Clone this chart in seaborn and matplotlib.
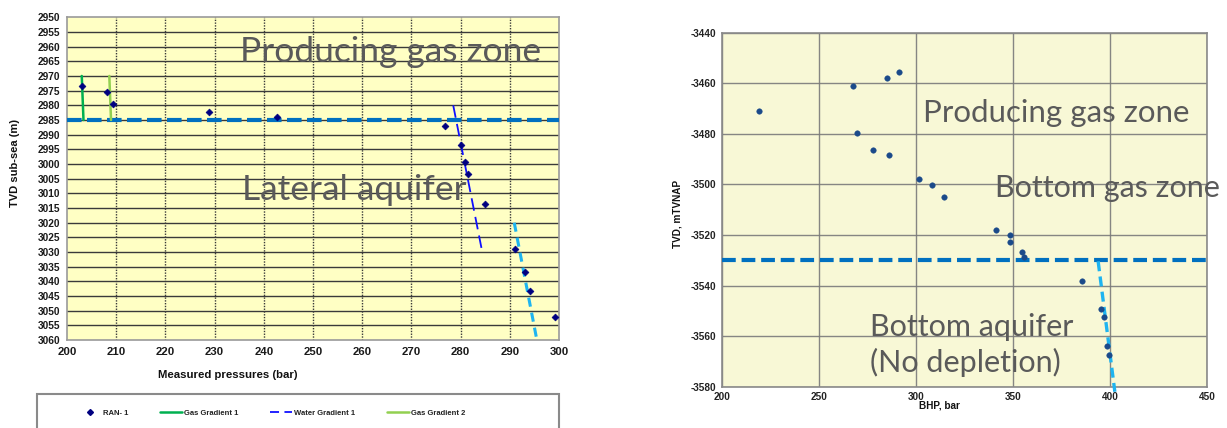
import matplotlib
matplotlib.use("Agg")
import matplotlib.pyplot as plt
from matplotlib.patches import Rectangle
from matplotlib.lines import Line2D
import seaborn as sns

# ---------------- Well RAN-1 (left panel) ----------------
ran1_pressure = [203.0, 208.1, 209.3, 228.8, 242.7, 276.8, 280.1, 280.9, 281.5, 284.9,
                 291.0, 293.0, 294.2, 299.1]
ran1_depth = [2973.4, 2975.4, 2979.4, 2982.2, 2984.1, 2987.1, 2993.5, 2999.3, 3003.5,
              3013.7, 3029.1, 3036.8, 3043.3, 3052.2]

gas_grad1_p = [203.0, 203.35]
gas_grad1_d = [2970, 2985]
gas_grad2_p = [208.6, 208.95]
gas_grad2_d = [2970, 2985]
water_grad1_p = [278.5, 284.4]
water_grad1_d = [2980, 3030]
water_grad2_p = [290.9, 295.5]
water_grad2_d = [3020, 3060]
gwc_left = 2985

# ---------------- Field data (right panel) ----------------
bhp = [219.0, 267.6, 285.2, 291.1, 269.5, 277.7, 285.9, 301.4, 308.1, 314.3,
       341.3, 348.5, 348.5, 354.4, 355.7, 385.4, 395.4, 396.6, 398.5, 399.5]
tvd = [-3470.8, -3461.0, -3457.9, -3455.4, -3479.7, -3486.3, -3488.3, -3497.8,
       -3500.4, -3504.9, -3518.0, -3519.9, -3522.7, -3526.9, -3528.7, -3538.0,
       -3549.2, -3552.5, -3564.1, -3567.6]
aquifer_p = [393.8, 402.4]
aquifer_d = [-3530.4, -3582.0]
gwc_right = -3530

sns.set_theme(style="white")
plt.rcParams["font.family"] = ["Liberation Sans", "DejaVu Sans"]
plt.rcParams["axes.unicode_minus"] = False

W, H = 1227, 428
fig = plt.figure(figsize=(W / 100, H / 100), dpi=100)
fig.patch.set_facecolor("white")

def fx(px):
    return px / W

def fy(py):
    return 1 - py / H

zone_font = dict(family=["Lato", "DejaVu Sans"], color="#5a5a5a")

# ====================== Left panel ======================
axL = fig.add_axes([fx(67), fy(340), fx(559 - 67), (340 - 17.3) / H])
axL.set_facecolor("#FFFFC4")
axL.set_xlim(200, 300)
axL.set_ylim(3060, 2950)
axL.set_xticks(range(200, 301, 10))
axL.set_yticks(range(2950, 3061, 5))
axL.grid(False)
for yv in range(2955, 3060, 5):
    axL.axhline(yv, color="#3a3a3a", lw=1.0, zorder=1)
for xv in range(210, 300, 10):
    axL.axvline(xv, color="#3a3a3a", lw=1.0, ls=(0, (1, 1)), zorder=1)

axL.axhline(gwc_left, color="#0070C0", lw=3.0, dashes=(3.5, 1.3), zorder=3)

sns.lineplot(x=gas_grad1_p, y=gas_grad1_d, ax=axL, color="#00B050", lw=1.8,
             sort=False, estimator=None, zorder=4)
sns.lineplot(x=gas_grad2_p, y=gas_grad2_d, ax=axL, color="#92D050", lw=1.8,
             sort=False, estimator=None, zorder=4)
sns.lineplot(x=water_grad1_p, y=water_grad1_d, ax=axL, color="#1010FF", lw=1.3,
             sort=False, estimator=None, zorder=4)
axL.lines[-1].set_dashes((7, 3.5))
sns.lineplot(x=water_grad2_p, y=water_grad2_d, ax=axL, color="#1EB4F0", lw=2.2,
             sort=False, estimator=None, zorder=4)
axL.lines[-1].set_dashes((3, 2))
axL.lines[-1].set_clip_on(False)

sns.scatterplot(x=ran1_pressure, y=ran1_depth, ax=axL, marker="D", s=12,
                color="#000080", edgecolor="#000080", linewidth=0.5, zorder=5)

for sp in axL.spines.values():
    sp.set_color("#9a9a9a")
    sp.set_linewidth(1.2)
axL.tick_params(axis="both", which="major", direction="out", length=3,
                width=1, color="#808080", pad=2)
for lab in axL.get_yticklabels():
    lab.set_fontsize(7.3)
    lab.set_fontweight("bold")
    lab.set_color("#1a1a1a")
for lab in axL.get_xticklabels():
    lab.set_fontsize(8.2)
    lab.set_fontweight("bold")
    lab.set_color("#1a1a1a")

axL.text(235.1, 2961.8, "Producing gas zone", fontsize=25.5, ha="left", va="center",
         zorder=6, **zone_font)
axL.text(235.5, 3008.9, "Lateral aquifer", fontsize=25.5, ha="left", va="center",
         zorder=6, **zone_font)

fig.text(fx(228), fy(375), "Measured pressures (bar)", ha="center", va="center",
         fontsize=8.2, fontweight="bold", color="#111111")
fig.text(fx(15), fy(163), "TVD sub-sea (m)", ha="center", va="center",
         rotation=90, fontsize=8, fontweight="bold", color="#111111")

# legend box under the left panel
fig.patches.append(Rectangle((fx(37), -0.05), fx(559 - 37), fy(394) + 0.05,
                             transform=fig.transFigure, facecolor="white",
                             edgecolor="#8a8a8a", lw=1.5))
handles = [
    Line2D([], [], marker="D", ls="none", color="#000080", markersize=3),
    Line2D([], [], color="#00B050", lw=1.8),
    Line2D([], [], color="#1010FF", lw=1.3, dashes=(5, 3)),
    Line2D([], [], color="#92D050", lw=1.8),
]
labels = ["RAN- 1", "Gas Gradient 1", "Water Gradient 1", "Gas Gradient 2"]
leg = fig.legend(handles, labels, loc="center", bbox_to_anchor=(fx(272), fy(413)),
                 ncol=4, frameon=False, fontsize=5.5, handlelength=2.9,
                 handletextpad=0.2, columnspacing=4.2)
for t in leg.get_texts():
    t.set_color("#222222")
    t.set_fontweight("bold")

# ====================== Right panel ======================
axR = fig.add_axes([fx(721.7), fy(386.7), fx(1207.3 - 721.7), (386.7 - 32.7) / H])
axR.set_facecolor("#F8F8D6")
axR.set_xlim(200, 450)
axR.set_ylim(-3580, -3440)
axR.set_xticks(range(200, 451, 50))
axR.set_yticks(range(-3580, -3439, 20))
axR.grid(True, color="#7a7a7a", lw=1.0, alpha=0.9)
axR.set_axisbelow(True)

axR.axhline(gwc_right, color="#0070C0", lw=3.0, dashes=(3.3, 1.4), zorder=3)
sns.lineplot(x=aquifer_p, y=aquifer_d, ax=axR, color="#1EB4F0", lw=2.4,
             sort=False, estimator=None, zorder=4)
axR.lines[-1].set_dashes((3, 1.6))
axR.lines[-1].set_clip_on(False)

sns.scatterplot(x=bhp, y=tvd, ax=axR, marker="o", s=16, color="#1B4A8A",
                edgecolor="#1B4A8A", linewidth=0.3, zorder=5)

for sp in axR.spines.values():
    sp.set_color("#8a8a8a")
    sp.set_linewidth(1.2)
axR.tick_params(axis="both", which="major", direction="out", length=0, pad=4)
for lab in axR.get_yticklabels() + axR.get_xticklabels():
    lab.set_fontsize(7.2)
    lab.set_fontweight("bold")
    lab.set_color("#222222")

axR.text(303.6, -3471.7, "Producing gas zone", fontsize=22.5, ha="left", va="center",
         zorder=6, **zone_font)
axR.text(340.7, -3501.3, "Bottom gas zone", fontsize=22, ha="left", va="center",
         zorder=6, clip_on=False, **zone_font)
axR.text(276.3, -3556.2, "Bottom aquifer", fontsize=22, ha="left", va="center",
         zorder=6, **zone_font)
axR.text(276.3, -3570.4, "(No depletion)", fontsize=22, ha="left", va="center",
         zorder=6, **zone_font)

fig.text(fx(939), fy(405), "BHP, bar", ha="center", va="center",
         fontsize=7.2, fontweight="bold", color="#111111")
fig.text(fx(677), fy(214), "TVD, mTVNAP", ha="center", va="center",
         rotation=90, fontsize=7.2, fontweight="bold", color="#111111")

fig.savefig("out.png", dpi=100, facecolor="white")
